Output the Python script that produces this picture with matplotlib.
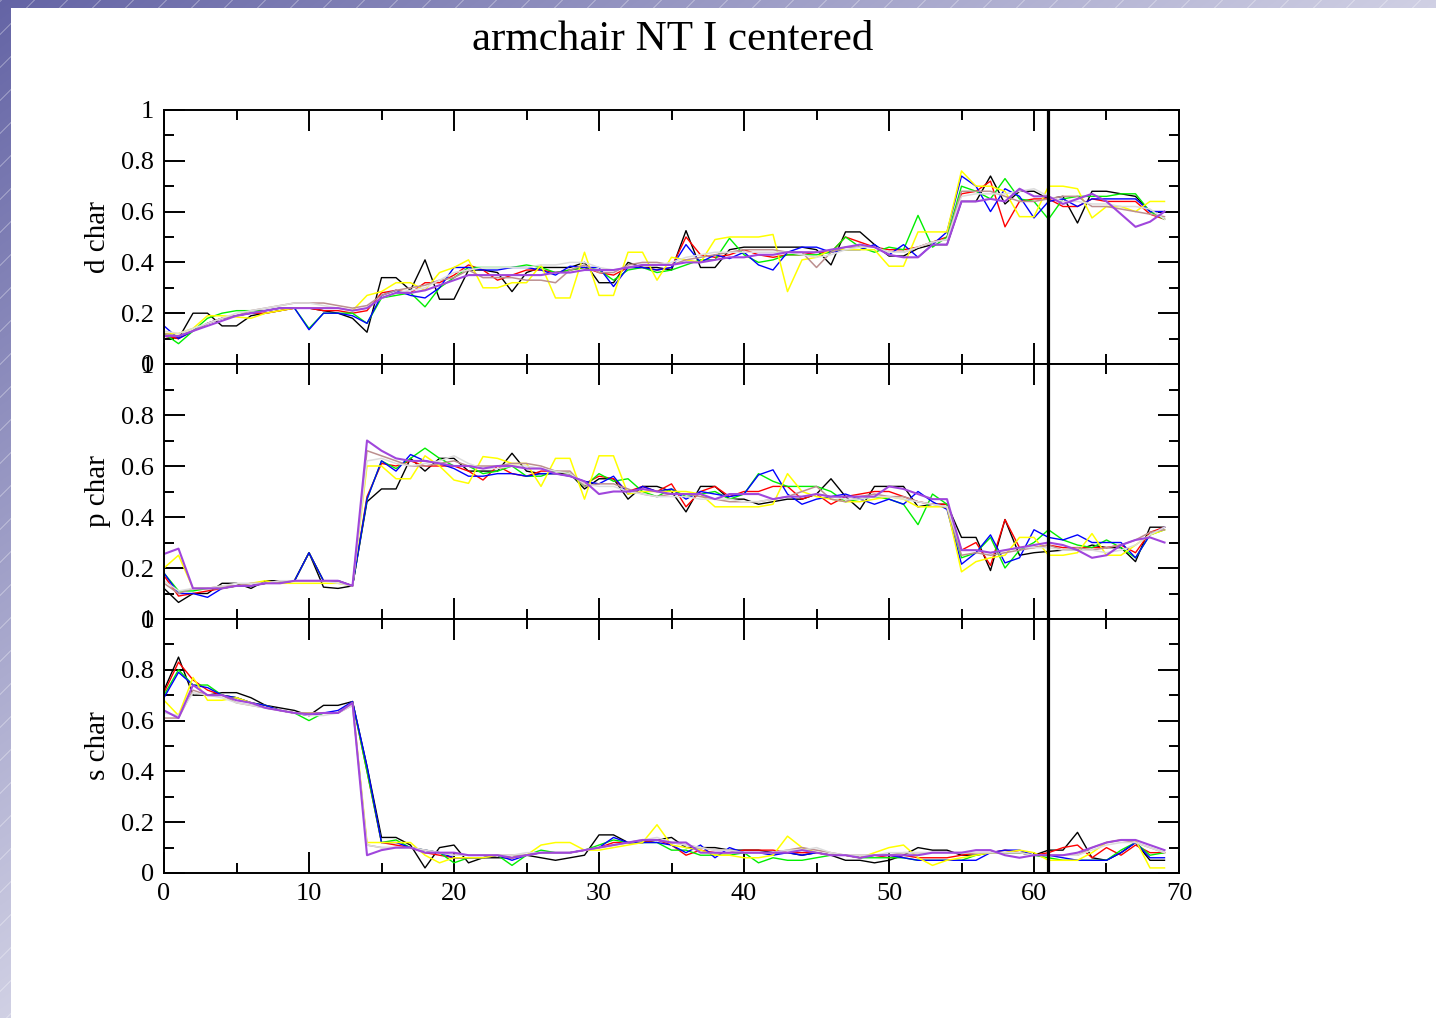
import numpy as np
import matplotlib
matplotlib.use('Agg')
import matplotlib.pyplot as plt
from matplotlib.ticker import MultipleLocator, FuncFormatter

plt.rcParams['font.family'] = ['Liberation Serif', 'DejaVu Serif']

# orbital index along the tube
x = list(range(70))

# d character
black_d = [0.11,0.10,0.20,0.20,0.15,0.15,0.19,0.20,0.21,0.22, 0.22,0.21,0.20,0.18,0.125,0.34,0.34,0.29,0.41,0.255,
           0.255,0.37,0.37,0.36,0.285,0.36,0.38,0.38,0.38,0.40, 0.32,0.32,0.40,0.38,0.38,0.37,0.525,0.38,0.38,0.45,
           0.46,0.46,0.46,0.46,0.46,0.45,0.39,0.52,0.52,0.47, 0.425,0.425,0.455,0.47,0.47,0.64,0.64,0.74,0.63,0.68,
           0.68,0.65,0.66,0.555,0.68,0.68,0.67,0.66,0.60,0.60]
red_d = [0.11,0.10,0.13,0.16,0.18,0.19,0.20,0.20,0.21,0.22, 0.22,0.21,0.21,0.20,0.21,0.28,0.29,0.28,0.32,0.32,
         0.35,0.39,0.37,0.33,0.35,0.37,0.37,0.36,0.37,0.38, 0.36,0.35,0.38,0.38,0.37,0.38,0.50,0.43,0.42,0.43,
         0.45,0.43,0.42,0.43,0.43,0.44,0.44,0.50,0.48,0.46, 0.45,0.45,0.46,0.48,0.50,0.67,0.68,0.72,0.54,0.64,
         0.65,0.65,0.62,0.62,0.65,0.64,0.64,0.64,0.59,0.57]
green_d = [0.12,0.08,0.13,0.18,0.20,0.21,0.21,0.21,0.22,0.22, 0.14,0.20,0.20,0.20,0.16,0.26,0.27,0.28,0.225,0.30,
           0.34,0.38,0.38,0.38,0.38,0.39,0.38,0.36,0.37,0.38, 0.37,0.33,0.37,0.38,0.36,0.37,0.39,0.41,0.41,0.495,
           0.43,0.40,0.41,0.43,0.43,0.43,0.44,0.50,0.46,0.44, 0.46,0.45,0.585,0.46,0.50,0.70,0.68,0.65,0.73,0.65,
           0.64,0.57,0.65,0.66,0.66,0.66,0.67,0.67,0.60,0.57]
blue_d = [0.15,0.10,0.13,0.16,0.18,0.19,0.20,0.21,0.22,0.22, 0.135,0.20,0.20,0.19,0.16,0.27,0.29,0.27,0.26,0.30,
          0.38,0.38,0.37,0.37,0.38,0.38,0.37,0.35,0.385,0.38, 0.38,0.305,0.38,0.38,0.37,0.38,0.47,0.40,0.43,0.415,
          0.44,0.39,0.37,0.44,0.46,0.46,0.44,0.45,0.45,0.47, 0.43,0.47,0.42,0.47,0.52,0.74,0.70,0.60,0.69,0.66,
          0.575,0.64,0.65,0.62,0.65,0.65,0.65,0.65,0.60,0.60]
yellow_d = [0.12,0.12,0.14,0.19,0.19,0.185,0.18,0.20,0.21,0.22, 0.22,0.22,0.22,0.21,0.27,0.285,0.32,0.32,0.29,0.36,
            0.38,0.41,0.30,0.30,0.32,0.32,0.39,0.26,0.26,0.44, 0.27,0.27,0.44,0.44,0.33,0.42,0.41,0.40,0.49,0.50,
            0.50,0.50,0.51,0.285,0.41,0.42,0.45,0.45,0.45,0.45, 0.385,0.385,0.52,0.52,0.52,0.76,0.70,0.70,0.68,0.58,
            0.58,0.70,0.70,0.69,0.575,0.62,0.62,0.60,0.64,0.64]
brown_d = [0.12,0.11,0.13,0.16,0.18,0.19,0.21,0.22,0.23,0.24, 0.24,0.24,0.23,0.22,0.23,0.27,0.29,0.30,0.31,0.33,
           0.34,0.37,0.34,0.34,0.34,0.33,0.33,0.32,0.37,0.39, 0.36,0.36,0.39,0.40,0.40,0.39,0.41,0.42,0.43,0.44,
           0.45,0.45,0.45,0.44,0.44,0.38,0.44,0.46,0.46,0.46, 0.44,0.44,0.46,0.48,0.49,0.68,0.68,0.68,0.66,0.64,
           0.64,0.65,0.66,0.66,0.62,0.62,0.61,0.60,0.59,0.58]
grey_d = [0.13,0.12,0.14,0.16,0.18,0.20,0.21,0.22,0.23,0.24, 0.24,0.23,0.22,0.21,0.22,0.26,0.28,0.29,0.30,0.33,
          0.36,0.37,0.38,0.38,0.38,0.38,0.39,0.39,0.40,0.40, 0.38,0.37,0.38,0.39,0.39,0.40,0.42,0.43,0.44,0.44,
          0.44,0.44,0.44,0.44,0.43,0.42,0.43,0.45,0.46,0.46, 0.44,0.44,0.46,0.48,0.49,0.66,0.67,0.67,0.67,0.68,
          0.69,0.66,0.64,0.64,0.63,0.63,0.62,0.62,0.61,0.57]
violet_d = [0.11,0.11,0.13,0.15,0.17,0.19,0.20,0.21,0.22,0.22, 0.22,0.22,0.22,0.21,0.22,0.26,0.28,0.28,0.29,0.31,
            0.33,0.35,0.35,0.35,0.35,0.35,0.35,0.36,0.36,0.37, 0.37,0.37,0.38,0.39,0.39,0.39,0.40,0.40,0.41,0.42,
            0.42,0.43,0.43,0.44,0.44,0.44,0.45,0.46,0.47,0.46, 0.43,0.42,0.42,0.47,0.47,0.64,0.64,0.65,0.64,0.69,
            0.66,0.66,0.63,0.65,0.67,0.64,0.59,0.54,0.56,0.60]

# p character
black_p = [0.12,0.065,0.10,0.10,0.14,0.14,0.12,0.15,0.15,0.15, 0.26,0.125,0.12,0.13,0.46,0.51,0.51,0.63,0.58,0.63,
           0.63,0.58,0.58,0.58,0.65,0.58,0.57,0.57,0.57,0.51, 0.55,0.55,0.47,0.52,0.52,0.50,0.42,0.52,0.52,0.47,
           0.47,0.45,0.46,0.47,0.47,0.49,0.55,0.48,0.43,0.52, 0.52,0.52,0.44,0.45,0.45,0.32,0.32,0.19,0.39,0.25,
           0.26,0.265,0.27,0.27,0.29,0.28,0.28,0.225,0.36,0.36]
red_p = [0.17,0.09,0.10,0.11,0.12,0.13,0.13,0.14,0.14,0.15, 0.26,0.15,0.15,0.13,0.48,0.61,0.60,0.62,0.60,0.60,
         0.60,0.58,0.545,0.60,0.57,0.56,0.58,0.58,0.57,0.53, 0.56,0.55,0.50,0.52,0.50,0.53,0.44,0.50,0.52,0.48,
         0.50,0.50,0.52,0.52,0.47,0.49,0.45,0.48,0.49,0.50, 0.50,0.48,0.46,0.45,0.45,0.27,0.30,0.21,0.39,0.28,
         0.28,0.29,0.28,0.28,0.28,0.28,0.29,0.26,0.34,0.36]
green_p = [0.18,0.11,0.11,0.12,0.12,0.13,0.13,0.14,0.14,0.15, 0.26,0.15,0.15,0.13,0.47,0.62,0.59,0.63,0.67,0.63,
           0.60,0.60,0.57,0.58,0.60,0.56,0.56,0.58,0.57,0.52, 0.57,0.54,0.55,0.50,0.48,0.51,0.48,0.49,0.50,0.47,
           0.49,0.57,0.54,0.52,0.52,0.52,0.50,0.46,0.47,0.48, 0.47,0.45,0.37,0.49,0.45,0.24,0.26,0.32,0.20,0.27,
           0.30,0.35,0.31,0.29,0.28,0.31,0.28,0.24,0.33,0.35]
blue_p = [0.18,0.10,0.10,0.085,0.12,0.13,0.13,0.14,0.14,0.15, 0.26,0.15,0.15,0.13,0.47,0.62,0.58,0.645,0.62,0.61,
          0.59,0.56,0.56,0.57,0.57,0.56,0.57,0.57,0.56,0.54, 0.53,0.56,0.49,0.52,0.50,0.51,0.47,0.50,0.49,0.48,
          0.49,0.565,0.585,0.49,0.45,0.47,0.48,0.49,0.47,0.45, 0.47,0.45,0.50,0.46,0.43,0.215,0.26,0.33,0.22,0.24,
          0.35,0.32,0.31,0.33,0.30,0.30,0.30,0.24,0.33,0.36]
yellow_p = [0.20,0.25,0.12,0.12,0.12,0.13,0.14,0.15,0.14,0.14, 0.14,0.14,0.14,0.13,0.60,0.60,0.55,0.55,0.64,0.60,
            0.545,0.532,0.637,0.63,0.61,0.61,0.52,0.63,0.63,0.47, 0.64,0.64,0.49,0.50,0.50,0.50,0.50,0.49,0.44,0.44,
            0.44,0.44,0.45,0.57,0.50,0.48,0.47,0.46,0.46,0.47, 0.48,0.47,0.44,0.44,0.44,0.185,0.225,0.24,0.25,0.32,
            0.32,0.25,0.25,0.26,0.335,0.25,0.25,0.29,0.33,0.35]
brown_p = [0.14,0.10,0.12,0.12,0.13,0.13,0.14,0.14,0.15,0.15, 0.15,0.15,0.15,0.13,0.66,0.64,0.62,0.60,0.60,0.61,
           0.62,0.60,0.60,0.60,0.61,0.61,0.60,0.58,0.58,0.52, 0.53,0.53,0.51,0.49,0.48,0.49,0.49,0.48,0.47,0.46,
           0.46,0.46,0.47,0.48,0.50,0.52,0.47,0.46,0.48,0.49, 0.48,0.48,0.46,0.45,0.44,0.25,0.26,0.25,0.26,0.27,
           0.28,0.29,0.27,0.28,0.27,0.28,0.29,0.31,0.34,0.35]
grey_p = [0.15,0.11,0.12,0.12,0.13,0.14,0.14,0.14,0.15,0.15, 0.15,0.15,0.14,0.13,0.62,0.63,0.61,0.60,0.61,0.62,
          0.64,0.61,0.59,0.59,0.60,0.60,0.59,0.58,0.57,0.53, 0.52,0.52,0.50,0.49,0.48,0.48,0.48,0.47,0.47,0.47,
          0.46,0.46,0.47,0.48,0.48,0.49,0.48,0.47,0.47,0.48, 0.48,0.47,0.46,0.45,0.44,0.27,0.27,0.26,0.27,0.28,
          0.28,0.28,0.27,0.27,0.27,0.26,0.27,0.29,0.33,0.36]
violet_p = [0.255,0.276,0.12,0.12,0.12,0.13,0.13,0.14,0.14,0.15, 0.15,0.15,0.15,0.13,0.70,0.66,0.63,0.62,0.62,0.61,
            0.60,0.60,0.59,0.60,0.60,0.59,0.59,0.57,0.56,0.54, 0.49,0.50,0.50,0.51,0.50,0.49,0.49,0.49,0.47,0.49,
            0.49,0.49,0.47,0.48,0.48,0.49,0.48,0.48,0.48,0.48, 0.52,0.51,0.49,0.47,0.47,0.27,0.27,0.26,0.27,0.28,
            0.29,0.30,0.29,0.27,0.24,0.25,0.29,0.31,0.32,0.30]

# s character
black_s = [0.72,0.85,0.70,0.70,0.71,0.71,0.69,0.66,0.65,0.64, 0.62,0.66,0.66,0.675,0.42,0.14,0.14,0.11,0.02,0.10,
           0.11,0.04,0.06,0.06,0.06,0.07,0.06,0.05,0.06,0.07, 0.15,0.15,0.12,0.12,0.13,0.14,0.10,0.10,0.10,0.09,
           0.09,0.09,0.08,0.08,0.07,0.08,0.07,0.05,0.05,0.04, 0.05,0.07,0.10,0.09,0.09,0.07,0.07,0.08,0.08,0.08,
           0.07,0.09,0.09,0.16,0.06,0.05,0.08,0.12,0.05,0.05]
red_s = [0.71,0.83,0.76,0.72,0.70,0.69,0.67,0.66,0.64,0.63, 0.62,0.63,0.63,0.675,0.40,0.12,0.11,0.10,0.08,0.07,
         0.06,0.06,0.06,0.07,0.06,0.07,0.08,0.08,0.08,0.09, 0.10,0.12,0.12,0.12,0.13,0.11,0.07,0.09,0.08,0.08,
         0.09,0.09,0.09,0.08,0.08,0.08,0.07,0.07,0.06,0.07, 0.06,0.07,0.06,0.06,0.06,0.07,0.08,0.08,0.09,0.08,
         0.07,0.08,0.10,0.11,0.06,0.10,0.07,0.11,0.08,0.08]
green_s = [0.70,0.80,0.74,0.74,0.70,0.69,0.67,0.66,0.64,0.63, 0.60,0.63,0.63,0.675,0.40,0.12,0.13,0.10,0.09,0.08,
           0.04,0.06,0.06,0.07,0.03,0.07,0.09,0.08,0.08,0.09, 0.11,0.13,0.12,0.12,0.12,0.09,0.09,0.07,0.07,0.07,
           0.08,0.04,0.06,0.05,0.05,0.06,0.07,0.07,0.06,0.06, 0.06,0.06,0.05,0.05,0.05,0.05,0.07,0.08,0.08,0.08,
           0.07,0.06,0.05,0.05,0.05,0.05,0.09,0.12,0.07,0.08]
blue_s = [0.69,0.79,0.74,0.73,0.70,0.69,0.67,0.66,0.64,0.63, 0.62,0.63,0.64,0.675,0.42,0.12,0.12,0.10,0.09,0.08,
          0.06,0.06,0.06,0.07,0.05,0.07,0.08,0.08,0.08,0.09, 0.10,0.14,0.12,0.12,0.12,0.11,0.08,0.11,0.06,0.10,
          0.08,0.08,0.07,0.08,0.07,0.08,0.07,0.07,0.06,0.07, 0.07,0.06,0.05,0.05,0.05,0.05,0.05,0.08,0.09,0.09,
          0.07,0.07,0.06,0.05,0.05,0.05,0.08,0.12,0.06,0.06]
yellow_s = [0.68,0.62,0.77,0.68,0.68,0.69,0.67,0.65,0.64,0.63, 0.63,0.63,0.63,0.67,0.12,0.12,0.12,0.12,0.07,0.04,
            0.06,0.06,0.06,0.07,0.06,0.07,0.11,0.12,0.12,0.09, 0.09,0.10,0.11,0.12,0.19,0.11,0.10,0.09,0.07,0.07,
            0.06,0.06,0.07,0.145,0.10,0.08,0.07,0.07,0.06,0.08, 0.10,0.11,0.06,0.03,0.05,0.06,0.07,0.08,0.08,0.09,
            0.08,0.05,0.05,0.05,0.08,0.12,0.13,0.13,0.02,0.02]
brown_s = [0.61,0.61,0.72,0.70,0.70,0.67,0.66,0.65,0.64,0.63, 0.63,0.63,0.63,0.66,0.11,0.10,0.10,0.10,0.09,0.08,
           0.07,0.07,0.07,0.07,0.07,0.07,0.08,0.08,0.08,0.09, 0.10,0.11,0.12,0.13,0.13,0.12,0.11,0.10,0.09,0.09,
           0.08,0.08,0.08,0.09,0.10,0.09,0.08,0.07,0.07,0.07, 0.07,0.08,0.08,0.08,0.08,0.08,0.08,0.08,0.08,0.08,
           0.07,0.07,0.07,0.07,0.10,0.12,0.13,0.12,0.10,0.08]
grey_s = [0.63,0.62,0.71,0.70,0.69,0.67,0.66,0.65,0.64,0.63, 0.62,0.62,0.63,0.66,0.11,0.10,0.10,0.10,0.09,0.08,
          0.07,0.07,0.07,0.07,0.07,0.08,0.08,0.08,0.08,0.09, 0.10,0.11,0.12,0.13,0.14,0.12,0.11,0.10,0.09,0.09,
          0.08,0.08,0.08,0.09,0.09,0.10,0.08,0.07,0.07,0.07, 0.08,0.08,0.08,0.08,0.08,0.08,0.08,0.08,0.08,0.08,
          0.07,0.07,0.07,0.07,0.09,0.11,0.12,0.12,0.10,0.08]
violet_s = [0.64,0.61,0.74,0.70,0.70,0.68,0.67,0.65,0.64,0.63, 0.625,0.63,0.63,0.67,0.07,0.09,0.10,0.10,0.08,0.08,
            0.08,0.07,0.07,0.07,0.06,0.07,0.08,0.08,0.08,0.09, 0.10,0.11,0.12,0.13,0.13,0.12,0.12,0.08,0.08,0.08,
            0.08,0.08,0.08,0.08,0.09,0.08,0.07,0.07,0.06,0.07, 0.07,0.07,0.07,0.08,0.08,0.08,0.09,0.09,0.07,0.06,
            0.07,0.07,0.07,0.08,0.10,0.12,0.13,0.13,0.11,0.09]

x_marker = 61
title = 'armchair NT I centered'

line_colors = ['#000000', '#ff0000', '#00ee00', '#0000ff', '#ffff00', '#bc8f8f', '#dcdcdc', '#a046dc']
line_widths = [1.0, 1.0, 1.0, 1.0, 1.1, 1.1, 1.1, 1.5]

panels = [
    ('d char', [black_d, red_d, green_d, blue_d, yellow_d, brown_d, grey_d, violet_d], 0.64244, 0.24951),
    ('p char', [black_p, red_p, green_p, blue_p, yellow_p, brown_p, grey_p, violet_p], 0.39194, 0.25049),
    ('s char', [black_s, red_s, green_s, blue_s, yellow_s, brown_s, grey_s, violet_s], 0.14244, 0.24951),
]

fig = plt.figure(figsize=(14.36, 10.18), dpi=100)

# slide background: striped blue border on left and top
H, W = 1018, 1436
yy, xx = np.mgrid[0:H, 0:W]
t = np.clip(xx / W + yy / H, 0, 1)[..., None]
dark = np.array([100, 100, 165]) / 255.0
light = np.array([208, 208, 228]) / 255.0
img = dark + (light - dark) * t
stripe = ((xx + yy) % 33) < 1.3
img[stripe] = img[stripe] * 0.75 + 0.25
img[8:, 11:] = 1.0
bg = fig.add_axes([0, 0, 1, 1])
bg.imshow(img, aspect='auto', interpolation='nearest')
bg.axis('off')

fmt = FuncFormatter(lambda v, p: '%g' % round(v, 2))

for i, (lab, series, b, h) in enumerate(panels):
    ax = fig.add_axes([0.11421, b, 0.70682, h])
    for s, c, lw in zip(series, line_colors, line_widths):
        ax.plot(x, s, color=c, linewidth=lw)
    ax.axvline(x_marker, color='black', linewidth=2.3, zorder=5)
    ax.set_xlim(0, 70)
    ax.set_ylim(0, 1)
    ax.xaxis.set_major_locator(MultipleLocator(10))
    ax.xaxis.set_minor_locator(MultipleLocator(5))
    ax.yaxis.set_major_locator(MultipleLocator(0.2))
    ax.yaxis.set_minor_locator(MultipleLocator(0.1))
    ax.yaxis.set_major_formatter(fmt)
    ax.tick_params(which='both', direction='in', top=True, right=True, width=1.4, colors='black')
    ax.tick_params(which='major', length=15, labelsize=19, pad=7)
    ax.tick_params(which='minor', length=7.5)
    for sp in ax.spines.values():
        sp.set_linewidth(1.4)
    if i < 2:
        ax.tick_params(labelbottom=False)
    fig.text(98 / 1436, b + h / 2, lab, rotation=90, ha='center', va='center', fontsize=21)

fig.text(673 / 1436, 1 - 50 / 1018, title, ha='center', va='baseline', fontsize=31)

fig.savefig('out.png', dpi=100)
